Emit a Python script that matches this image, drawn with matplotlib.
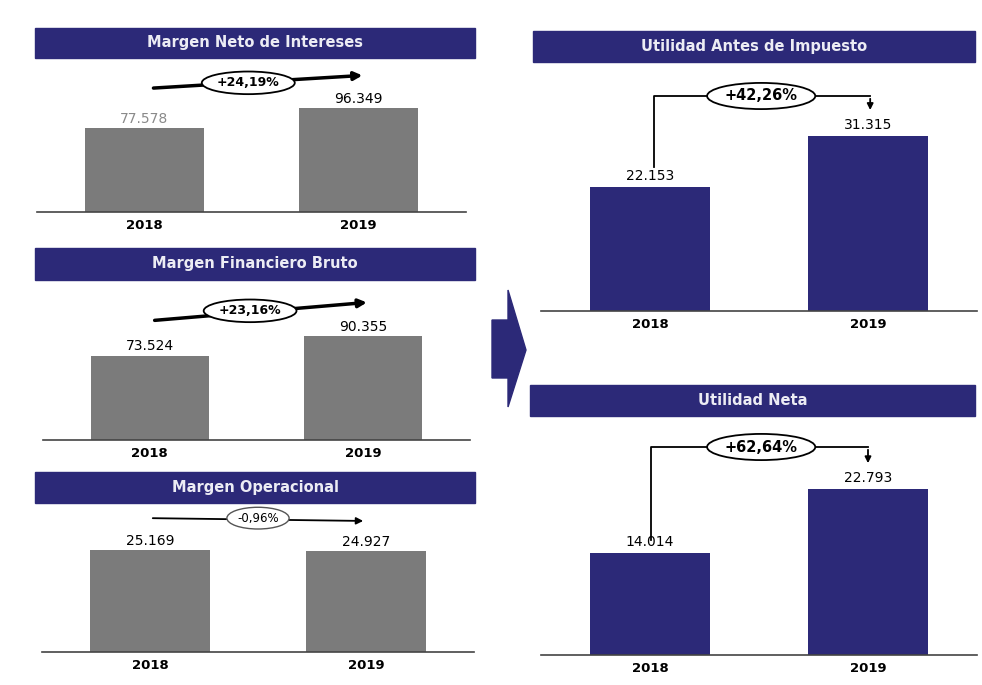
import numpy as np
import matplotlib.pyplot as plt
from matplotlib.patches import Rectangle, Polygon

years = ['2018', '2019']

titles = ['Margen Neto de Intereses', 'Margen Financiero Bruto', 'Margen Operacional',
          'Utilidad Antes de Impuesto', 'Utilidad Neta']
values = [[77.578, 96.349],
          [73.524, 90.355],
          [25.169, 24.927],
          [22.153, 31.315],
          [14.014, 22.793]]
value_labels = [['77.578', '96.349'],
                ['73.524', '90.355'],
                ['25.169', '24.927'],
                ['22.153', '31.315'],
                ['14.014', '22.793']]
changes = ['+24,19%', '+23,16%', '-0,96%', '+42,26%', '+62,64%']

NAVY = '#2c2978'
GRAY = '#7b7b7b'
W, H = 982, 685

fig = plt.figure(figsize=(W / 100, H / 100), dpi=100)
fig.patch.set_facecolor('white')


def fx(x):
    return x / W


def fy(y):
    return 1 - y / H


def banner(x0, y0, x1, y1, text):
    fig.patches.append(Rectangle((fx(x0), fy(y1)), fx(x1 - x0), (y1 - y0) / H,
                                 transform=fig.transFigure, color=NAVY, zorder=1))
    fig.text(fx((x0 + x1) / 2), fy((y0 + y1) / 2), text, color='#ececf4',
             fontsize=10.5, fontweight='bold', ha='center', va='center', zorder=2)


def panel(i, box, ax_px, ymax, color, label_colors=('black', 'black')):
    banner(*box, titles[i])
    x0, x1, ytop, ybot = ax_px
    ax = fig.add_axes([fx(x0), fy(ybot), fx(x1 - x0), (ybot - ytop) / H])
    ax.bar([0, 1], values[i], width=0.555, color=color, zorder=2)
    ax.set_xlim(-0.5, 1.5)
    ax.set_ylim(0, ymax)
    for s in ['top', 'right', 'left']:
        ax.spines[s].set_visible(False)
    ax.spines['bottom'].set_color('#444444')
    ax.spines['bottom'].set_linewidth(1.2)
    ax.set_yticks([])
    ax.set_xticks([0, 1])
    ax.set_xticklabels(years, fontsize=9.5, fontweight='bold')
    ax.tick_params(axis='x', length=0, pad=5)
    ax.patch.set_alpha(0)
    for k in range(2):
        ax.text(k, values[i][k] + ymax * 0.015, value_labels[i][k], ha='center',
                va='bottom', fontsize=10, color=label_colors[k])
    return ax


ell = dict(boxstyle='ellipse,pad=0.12', fc='white', ec='black', lw=1.3)

# Margen Neto de Intereses
ax = panel(0, (35, 28, 475, 58), (37, 466, 65, 212), 136, GRAY, ('#8a8a8a', 'black'))
ax.annotate('', xy=(1.03, 126.5), xytext=(0.03, 114.5),
            arrowprops=dict(arrowstyle='-|>', lw=2.5, color='black', mutation_scale=12))
ax.text(0.485, 119.5, changes[0], ha='center', va='center', fontsize=9,
        fontweight='bold', bbox=ell)

# Margen Financiero Bruto
ax = panel(1, (35, 248, 475, 280), (43, 470, 285, 440), 135, GRAY)
ax.annotate('', xy=(1.03, 120), xytext=(0.01, 104),
            arrowprops=dict(arrowstyle='-|>', lw=2.5, color='black', mutation_scale=12))
ax.text(0.47, 112.5, changes[1], ha='center', va='center', fontsize=9,
        fontweight='bold', bbox=ell)

# Margen Operacional
ax = panel(2, (35, 472, 475, 503), (42, 474, 508, 652), 35.5, GRAY)
ax.annotate('', xy=(1.0, 32.3), xytext=(0.0, 33.0),
            arrowprops=dict(arrowstyle='-|>', lw=1.3, color='black', mutation_scale=10))
ax.text(0.5, 33.0, changes[2], ha='center', va='center', fontsize=8.5,
        bbox=dict(boxstyle='ellipse,pad=0.1', fc='white', ec='#555555', lw=1.0))

# Utilidad Antes de Impuesto
ax = panel(3, (533, 31, 975, 62), (541, 977, 68, 311), 43.4, NAVY)
ax.plot([0.02, 0.02, 1.01], [25.7, 38.4, 38.4], color='black', lw=1.3)
ax.annotate('', xy=(1.01, 35.4), xytext=(1.01, 38.4),
            arrowprops=dict(arrowstyle='-|>', lw=1.3, color='black', mutation_scale=9))
ax.text(0.51, 38.4, changes[3], ha='center', va='center', fontsize=10.5,
        fontweight='bold', bbox=ell)

# Utilidad Neta
ax = panel(4, (530, 385, 975, 416), (541, 977, 420, 655), 32.2, NAVY)
ax.plot([0.005, 0.005, 1.0], [15.7, 28.5, 28.5], color='black', lw=1.3)
ax.annotate('', xy=(1.0, 25.9), xytext=(1.0, 28.5),
            arrowprops=dict(arrowstyle='-|>', lw=1.3, color='black', mutation_scale=9))
ax.text(0.51, 28.5, changes[4], ha='center', va='center', fontsize=10.5,
        fontweight='bold', bbox=ell)

# big arrow between the two columns
fig.patches.append(Polygon([(fx(492), fy(320)), (fx(508), fy(320)), (fx(508), fy(290)),
                            (fx(526), fy(350)), (fx(508), fy(407)), (fx(508), fy(378)),
                            (fx(492), fy(378))], closed=True, transform=fig.transFigure,
                           color=NAVY, zorder=1))

fig.savefig('out.png', dpi=100, facecolor='white')
